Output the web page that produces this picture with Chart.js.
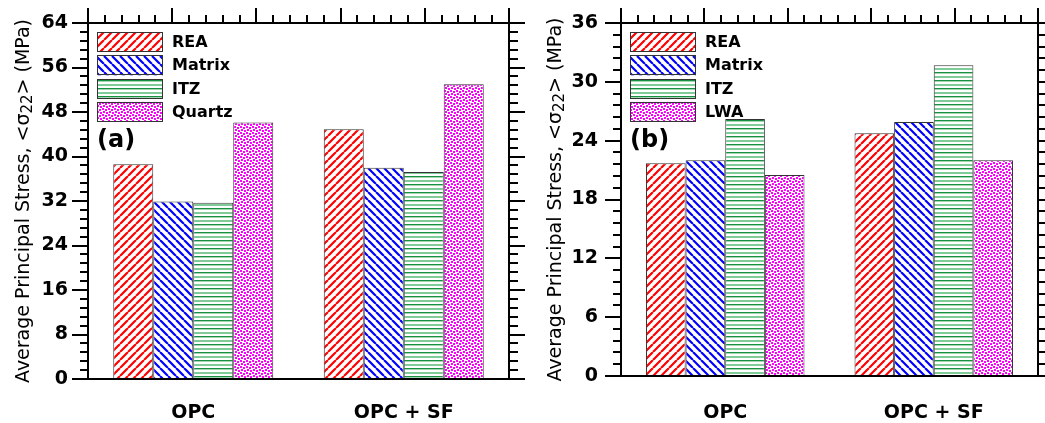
<!DOCTYPE html>
<html><head><meta charset="utf-8">
<script src="https://cdn.jsdelivr.net/npm/chart.js@4.4.0/dist/chart.umd.min.js"></script>
<style>
html,body{margin:0;padding:0;background:#fff;width:1045px;height:423px;overflow:hidden;}
#wa{position:absolute;left:0;top:0;width:525px;height:423px;}
#wb{position:absolute;left:525px;top:0;width:520px;height:423px;}
</style></head><body>
<div id="wa"><canvas id="ca"></canvas></div>
<div id="wb"><canvas id="cb"></canvas></div>
<script>
// ---- data ----
const categories = ['OPC', 'OPC + SF'];
const seriesA = ['REA', 'Matrix', 'ITZ', 'Quartz'];
const seriesB = ['REA', 'Matrix', 'ITZ', 'LWA'];
const reaA = [38.6, 44.9];
const matrixA = [31.9, 38.0];
const itzA = [31.7, 37.2];
const quartzA = [46.1, 53.0];
const reaB = [21.7, 24.75];
const matrixB = [22.0, 25.9];
const itzB = [26.2, 31.7];
const lwaB = [20.5, 22.0];
const ticksA = [0, 8, 16, 24, 32, 40, 48, 56, 64];
const ticksB = [0, 6, 12, 18, 24, 30, 36];
// y title: [text, isSubscript]
const yTitleParts = [['Average Principal Stress, <σ', false], ['22', true], ['> (MPa)', false]];

// ---- patterns ----
function tile(w, h, draw) {
  const c = document.createElement('canvas'); c.width = w; c.height = h;
  const g = c.getContext('2d'); g.fillStyle = '#fff'; g.fillRect(0, 0, w, h); draw(g, w, h);
  return document.createElement('canvas').getContext('2d').createPattern(c, 'repeat');
}
const patStripe = (color, dir) => tile(8, 8, (g, w, h) => {
  g.strokeStyle = color; g.lineWidth = 2.2; g.beginPath();
  for (let k = -1; k <= 1; k++) {
    if (dir > 0) { g.moveTo(k * w, h); g.lineTo(k * w + w, 0); }
    else { g.moveTo(k * w, 0); g.lineTo(k * w + w, h); }
  }
  g.stroke();
});
const patHoriz = () => tile(8, 8, (g) => {
  g.fillStyle = '#17913f'; g.fillRect(0, 0, 8, 1.4);
  g.fillStyle = '#80cc99'; g.fillRect(0, 4, 8, 2);
});
const patDots = () => tile(6, 6, (g) => {
  g.fillStyle = '#ff00ff';
  [[0,0],[3,1],[1,3],[4,4]].forEach(([x,y]) => g.fillRect(x, y, 2, 2));
});
const fills = [patStripe('#ff0000', 1), patStripe('#0000ff', -1), patHoriz(), patDots()];

const FONT = 'DejaVu Sans';
Chart.defaults.color = '#000';
Chart.defaults.font.family = FONT;

const framePlugin = {
  id: 'frame',
  afterDraw(chart, args, opts) {
    const ctx = chart.ctx; const ca = chart.chartArea; const ys = chart.scales.y;
    const L = Math.round(ca.left), R = Math.round(ca.right), T = Math.round(ca.top), B = Math.round(ca.bottom);
    ctx.save();
    ctx.strokeStyle = '#000'; ctx.lineWidth = 2; ctx.beginPath();
    ctx.moveTo(L, T - 15); ctx.lineTo(L, B + 1);
    ctx.moveTo(R, T - 15); ctx.lineTo(R, B + 1);
    ctx.moveTo(L - 1, T); ctx.lineTo(R + 1, T);
    ctx.moveTo(L - 1, B); ctx.lineTo(R + 1, B);
    for (let i = 0; i <= 25; i++) {
      const x = Math.round(L + (R - L) * i / 25); const len = i % 5 === 0 ? 15 : 8;
      ctx.moveTo(x, T); ctx.lineTo(x, T - len);
    }
    const tk = opts.ticks; const step = (tk[1] - tk[0]) / 5;
    const n = Math.round((tk[tk.length - 1] - tk[0]) / step);
    for (let i = 0; i <= n; i++) {
      const py = Math.round(ys.getPixelForValue(tk[0] + i * step)); const major = i % 5 === 0;
      ctx.moveTo(R, py); ctx.lineTo(R + (major ? 16 : 9), py);
      ctx.moveTo(L, py); ctx.lineTo(L - (major ? 16 : 8), py);
    }
    ctx.stroke();
    // legend
    const lx = L + 9, ly = T + 9;
    chart.data.datasets.forEach((ds, i) => {
      const y0 = ly + i * 23.3;
      ctx.fillStyle = ds.backgroundColor; ctx.fillRect(lx, y0, 66, 20);
      ctx.strokeStyle = '#333'; ctx.lineWidth = 1; ctx.strokeRect(lx + 0.5, Math.round(y0) + 0.5, 65, 19);
      ctx.fillStyle = '#000'; ctx.font = 'bold 16px "' + FONT + '"'; ctx.textBaseline = 'middle'; ctx.textAlign = 'left';
      ctx.fillText(ds.label, lx + 75, y0 + 11);
    });
    ctx.font = 'bold 24px "' + FONT + '"'; ctx.textBaseline = 'alphabetic';
    ctx.fillText(opts.tag, L + 9, T + 124);
    // y-axis title with real subscript
    const mainF = '19px "' + FONT + '"', subF = '15px "' + FONT + '"';
    let total = 0;
    yTitleParts.forEach(([t, sub]) => { ctx.font = sub ? subF : mainF; total += ctx.measureText(t).width; });
    ctx.translate(opts.titleX + 7, (T + B) / 2);
    ctx.rotate(-Math.PI / 2);
    ctx.textAlign = 'left'; ctx.textBaseline = 'alphabetic';
    let x = -total / 2;
    yTitleParts.forEach(([t, sub]) => {
      ctx.font = sub ? subF : mainF;
      ctx.fillText(t, x, sub ? 3 : 0);
      x += ctx.measureText(t).width;
    });
    ctx.restore();
  }
};

function makeChart(id, labels, values, ticks, tag, yWidth, xHeight, titleX, rightPad, yPad, xPad) {
  return new Chart(document.getElementById(id), {
    type: 'bar',
    data: {
      labels: categories,
      datasets: labels.map((lab, i) => ({
        label: lab, data: values[i], backgroundColor: fills[i],
        borderColor: '#333', borderWidth: 1, categoryPercentage: 0.76, barPercentage: 1.0
      }))
    },
    options: {
      responsive: true, maintainAspectRatio: false, animation: false, devicePixelRatio: 1,
      layout: { padding: { top: 23, right: rightPad, left: 0, bottom: 0 } },
      plugins: { legend: { display: false }, tooltip: { enabled: false }, frame: { ticks: ticks, tag: tag, titleX: titleX } },
      scales: {
        x: {
          grid: { display: false, drawTicks: false }, border: { display: false },
          ticks: { padding: xPad, font: { family: FONT, size: 19, weight: 'bold' }, color: '#000' },
          afterFit: (s) => { s.height = xHeight; s.paddingLeft = 0; s.paddingRight = 0; }
        },
        y: {
          min: ticks[0], max: ticks[ticks.length - 1],
          grid: { display: false, drawTicks: false }, border: { display: false },
          ticks: { stepSize: ticks[1] - ticks[0], padding: yPad, font: { family: FONT, size: 19, weight: 'bold' }, color: '#000' },
          title: { display: false },
          afterFit: (s) => { s.width = yWidth; s.paddingTop = 0; s.paddingBottom = 0; }
        }
      }
    },
    plugins: [framePlugin]
  });
}

makeChart('ca', seriesA, [reaA, matrixA, itzA, quartzA], ticksA, '(a)', 88, 44, 22, 16, 20, 22.5);
makeChart('cb', seriesB, [reaB, matrixB, itzB, lwaB], ticksB, '(b)', 96, 47, 29, 7, 23, 25.5);
</script>
</body></html>
